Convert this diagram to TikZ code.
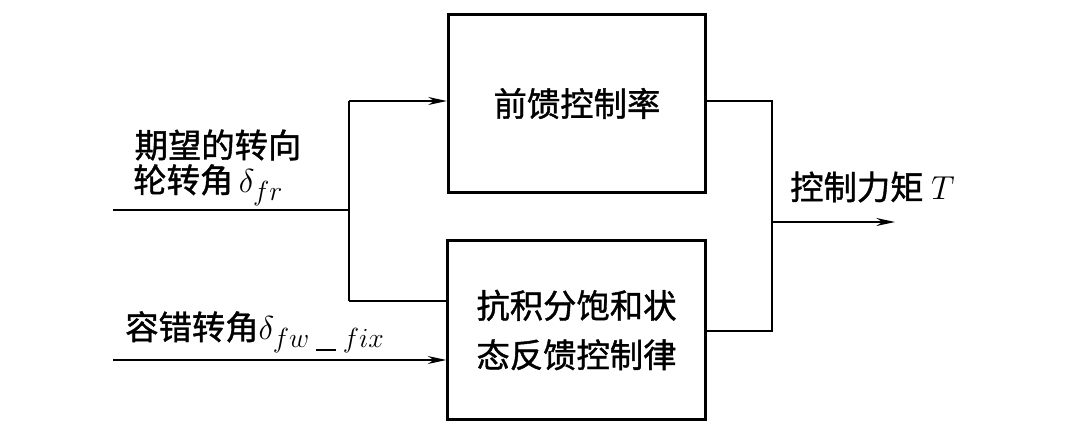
\documentclass[tikz,border=0pt]{standalone}
\usepackage{fontspec}
\newfontfamily\cjk[FakeBold=1.2]{Noto Sans CJK SC}
\usetikzlibrary{arrows.meta}
\newcommand{\bigmath}[1]{{\fontsize{32}{37}\selectfont$#1$}}
\newcommand{\thinus}{\,\rule[-0.08em]{0.45em}{0.04em}\,}
\begin{document}
\begin{tikzpicture}[x=0.75pt,y=-0.75pt,
  blk/.style={draw,line width=2.2pt,minimum width=193pt,minimum height=134pt,inner sep=0pt,align=center,font=\cjk\fontsize{25}{37}\selectfont},
  conn/.style={line width=1.1pt},
  arr/.style={conn,-{Stealth[length=14pt,width=6pt]}},
  lbl/.style={font=\cjk\fontsize{25}{37}\selectfont,inner sep=0pt,align=center}]
\useasboundingbox (0,0) rectangle (1080,428);
\node[blk] (ff) at (577,103.5) {前馈控制率};
\node[blk] (aw) at (576.5,330) {抗积分饱和状\\态反馈控制律};
\coordinate (in1) at (113,210);
\coordinate (j1) at (349,210);
\coordinate (jt) at (349,101);
\coordinate (jb) at (349,301);
\coordinate (in2) at (113,360);
\coordinate (o1) at (772,101);
\coordinate (o2) at (772,331);
\coordinate (om) at (772,222);
\coordinate (out) at (895,222);
\draw[conn] (in1) -- (j1);
\draw[conn] (jt) -- (jb);
\draw[arr] (jt) -- (jt -| ff.west);
\draw[conn] (jb) -- (jb -| aw.west);
\draw[arr] (in2) -- (in2 -| aw.west);
\draw[conn] (o1 -| ff.east) -- (o1) -- (o2) -- (o2 -| aw.east);
\draw[arr] (om) -- (out);
\node[lbl] (l1) at (218,145) {期望的转向};
\node[lbl,anchor=west] (l2) at (133,185) {轮转角\,\bigmath{\delta_{fr}}};
\node[lbl,anchor=west] (l3) at (125,332) {容错转角\bigmath{\delta_{fw\mbox{\thinus}fix}}};
\node[lbl,anchor=west] (l4) at (790,187) {控制力矩 \bigmath{T}};
\end{tikzpicture}
\end{document}
